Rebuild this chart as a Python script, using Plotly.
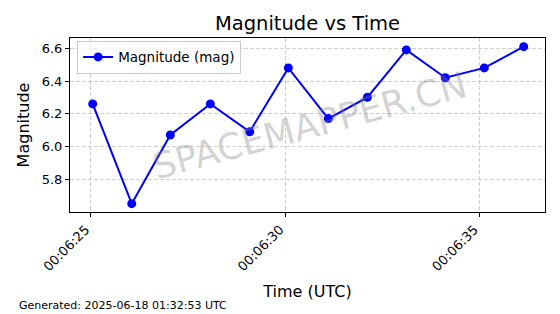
import plotly.graph_objects as go

times = ["2025-06-18 00:06:25.051", "2025-06-18 00:06:26.055", "2025-06-18 00:06:27.048",
         "2025-06-18 00:06:28.078", "2025-06-18 00:06:29.092", "2025-06-18 00:06:30.085",
         "2025-06-18 00:06:31.114", "2025-06-18 00:06:32.118", "2025-06-18 00:06:33.121",
         "2025-06-18 00:06:34.125", "2025-06-18 00:06:35.128", "2025-06-18 00:06:36.142"]
magnitudes = [6.26, 5.65, 6.07, 6.26, 6.09, 6.48, 6.17, 6.30, 6.59, 6.42, 6.48, 6.61]
y_ticks = [5.8, 6.0, 6.2, 6.4, 6.6]
x_range = ["2025-06-18 00:06:24.467", "2025-06-18 00:06:36.690"]
y_range = [5.599, 6.663]

FONT = "DejaVu Sans"

fig = go.Figure()
fig.add_trace(go.Scatter(
    x=times, y=magnitudes, mode="lines+markers", name="Magnitude (mag)",
    line=dict(color="#0000ff", width=2),
    marker=dict(color="#0000ff", size=9),
))

grid = dict(showgrid=True, gridcolor="rgba(176,176,176,0.6)", griddash="4px,2px", gridwidth=1)

fig.update_layout(
    width=560, height=314,
    margin=dict(l=70, r=15, t=38, b=102),
    paper_bgcolor="white", plot_bgcolor="white",
    font=dict(family=FONT, color="black", size=13),
    title=dict(text="Magnitude vs Time", x=(70 + 545) / 2 / 560, xanchor="center",
               y=1 - 23 / 314, yanchor="middle", font=dict(size=19.5, color="black")),
    showlegend=True,
    legend=dict(x=0.015, y=0.985, xanchor="left", yanchor="top",
                bgcolor="rgba(255,255,255,0.8)", bordercolor="#cccccc", borderwidth=1,
                font=dict(size=13.5)),
    xaxis=dict(range=x_range, type="date", tickformat="%H:%M:%S", dtick=5000,
               tick0="2025-06-18 00:06:25", tickangle=-45, ticklabelshift=-5,
               ticks="outside", ticklen=4, tickcolor="black",
               showline=True, linecolor="black", linewidth=1, mirror=True,
               title=dict(text="Time (UTC)", font=dict(size=16), standoff=12), **grid),
    yaxis=dict(range=y_range, tickvals=y_ticks, ticktext=[f"{v:.1f}" for v in y_ticks],
               ticks="outside", ticklen=4, tickcolor="black",
               showline=True, linecolor="black", linewidth=1, mirror=True,
               title=dict(text="Magnitude", font=dict(size=16), standoff=8), **grid),
)

fig.add_annotation(text="SPACEMAPPER.CN", xref="paper", yref="paper", x=0.505, y=0.5,
                   showarrow=False, textangle=-15,
                   font=dict(size=36, color="rgba(128,128,128,0.35)", family=FONT))
fig.add_annotation(text="Generated: 2025-06-18 01:32:53 UTC", xref="paper", yref="paper",
                   x=(17 - 70) / 475, y=-(305 - 212) / 174, xanchor="left", yanchor="middle",
                   showarrow=False, font=dict(size=11, color="black"))

fig.write_html("out.html")
